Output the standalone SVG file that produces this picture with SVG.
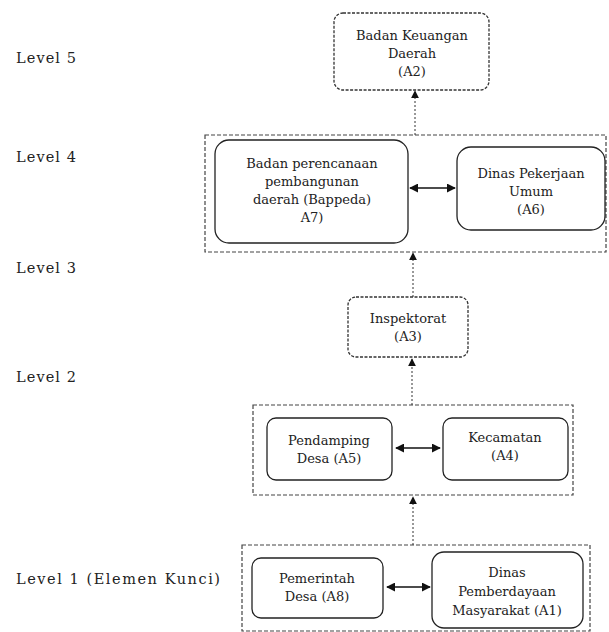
<svg xmlns="http://www.w3.org/2000/svg" width="609" height="632" viewBox="0 0 609 632">
<style>
text{font-family:"DejaVu Serif","Liberation Serif",serif;font-size:13px;fill:#222;text-anchor:middle}
.lvl{text-anchor:start;font-size:14.5px}
.node{fill:#fff;stroke:#222;stroke-width:1.3}
.dnode{fill:#fff;stroke:#333;stroke-width:1.3;stroke-dasharray:3 1.5}
.group{fill:none;stroke:#444;stroke-width:1.2;stroke-dasharray:4 2}
.up{stroke:#333;stroke-width:1;stroke-dasharray:2 2;fill:none;marker-end:url(#ah)}
.both{stroke:#111;stroke-width:1.3;fill:none;marker-start:url(#ah2);marker-end:url(#ah2)}
</style>
<defs>
<marker id="ah" viewBox="0 0 10 10" refX="9" refY="5" markerWidth="8" markerHeight="8" markerUnits="userSpaceOnUse" orient="auto"><path d="M0,0 L10,5 L0,10 z" fill="#111"/></marker>
<marker id="ah2" viewBox="0 0 10 10" refX="9" refY="5" markerWidth="9" markerHeight="9" markerUnits="userSpaceOnUse" orient="auto-start-reverse"><path d="M0,0 L10,5 L0,10 z" fill="#111"/></marker>
</defs>
<g id="level-labels">
<text class="lvl" x="16" y="63" textLength="60" lengthAdjust="spacing">Level 5</text>
<text class="lvl" x="16" y="162" textLength="60" lengthAdjust="spacing">Level 4</text>
<text class="lvl" x="16" y="273" textLength="60" lengthAdjust="spacing">Level 3</text>
<text class="lvl" x="16" y="382" textLength="60" lengthAdjust="spacing">Level 2</text>
<text class="lvl" x="16" y="584" textLength="204" lengthAdjust="spacing">Level 1 (Elemen Kunci)</text>
</g>
<g id="groups">
<rect id="group-level4" class="group" x="205" y="135" width="401" height="117"/>
<rect id="group-level2" class="group" x="253" y="405" width="320" height="90"/>
<rect id="group-level1" class="group" x="242" y="545" width="348" height="86"/>
</g>
<g id="A2"><rect class="dnode" x="334" y="13" width="155" height="77" rx="9"/>
<text x="412" y="40">Badan Keuangan</text><text x="412" y="58">Daerah</text><text x="412" y="76">(A2)</text></g>
<g id="A7"><rect class="node" x="215" y="140" width="193" height="103" rx="14"/>
<text x="312" y="168">Badan perencanaan</text><text x="312" y="186">pembangunan</text><text x="312" y="204">daerah (Bappeda)</text><text x="312" y="222">A7)</text></g>
<g id="A6"><rect class="node" x="457" y="147" width="148" height="83" rx="14"/>
<text x="531" y="178">Dinas Pekerjaan</text><text x="531" y="196">Umum</text><text x="531" y="214">(A6)</text></g>
<g id="A3"><rect class="dnode" x="348" y="297" width="120" height="60" rx="8"/>
<text x="408" y="323">Inspektorat</text><text x="408" y="341">(A3)</text></g>
<g id="A5"><rect class="node" x="267" y="418" width="125" height="62" rx="9"/>
<text x="329" y="445">Pendamping</text><text x="329" y="463">Desa (A5)</text></g>
<g id="A4"><rect class="node" x="443" y="418" width="125" height="62" rx="9"/>
<text x="505" y="442">Kecamatan</text><text x="505" y="460">(A4)</text></g>
<g id="A8"><rect class="node" x="252" y="558" width="131" height="60" rx="9"/>
<text x="317" y="583">Pemerintah</text><text x="317" y="601">Desa (A8)</text></g>
<g id="A1"><rect class="node" x="432" y="552" width="151" height="76" rx="12"/>
<text x="507" y="577">Dinas</text><text x="507" y="596">Pemberdayaan</text><text x="507" y="615">Masyarakat (A1)</text></g>
<g id="connectors">
<line class="up" x1="415" y1="135" x2="415" y2="91"/>
<line class="up" x1="413" y1="297" x2="413" y2="253"/>
<line class="up" x1="412" y1="405" x2="412" y2="359"/>
<line class="up" x1="413" y1="545" x2="413" y2="497"/>
<line class="both" x1="410" y1="188" x2="455" y2="188"/>
<line class="both" x1="396" y1="448" x2="440" y2="448"/>
<line class="both" x1="387" y1="587" x2="430" y2="587"/>
</g>
</svg>
